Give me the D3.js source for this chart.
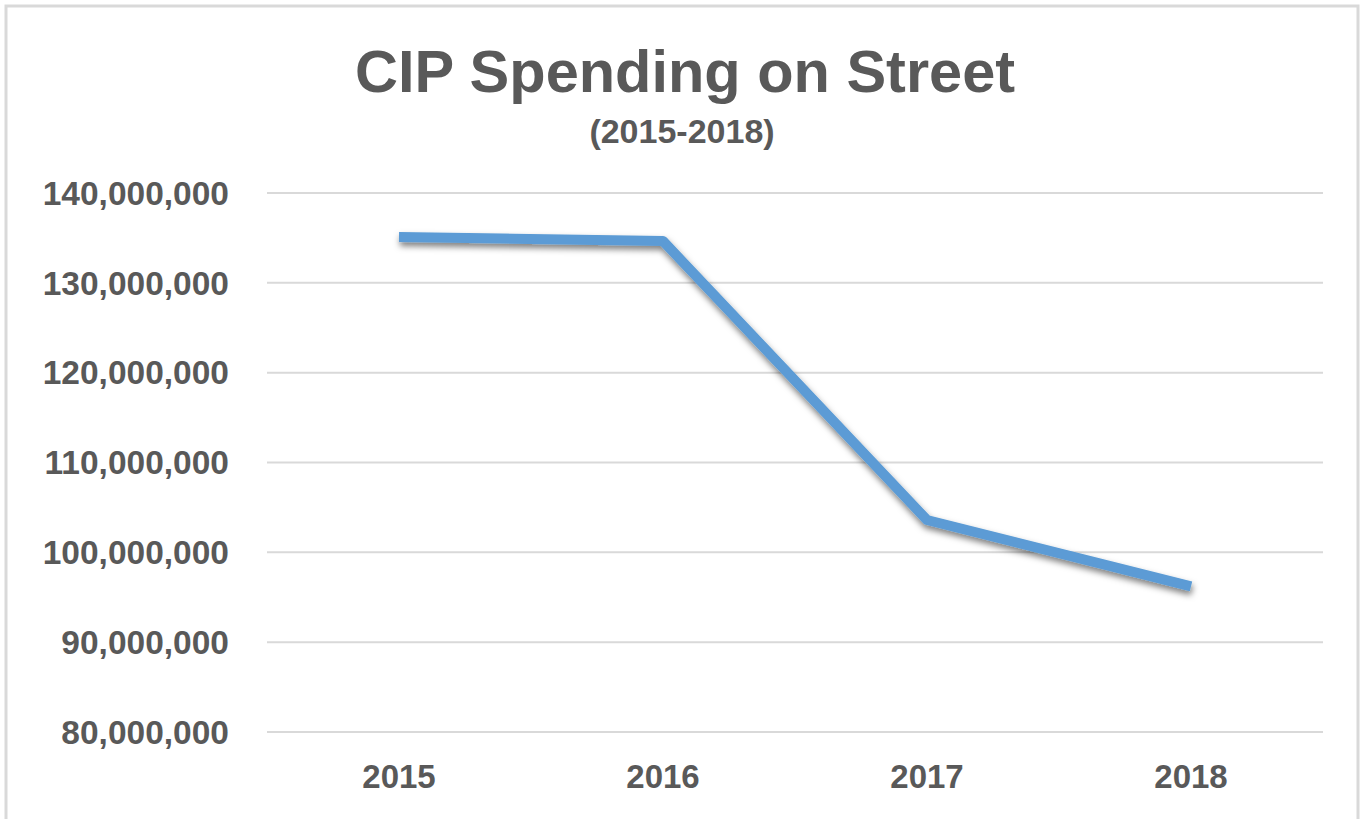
<!DOCTYPE html>
<html>
<head>
<meta charset="utf-8">
<title>CIP Spending on Street</title>
<script src="https://d3js.org/d3.v7.min.js"></script>
<style>
  body { margin: 0; background: #fff; }
  svg { display: block; font-family: "Liberation Sans", Arial, sans-serif; }
</style>
</head>
<body>
<script>
const years = ["2015", "2016", "2017", "2018"];
const spending = [135100000, 134650000, 103600000, 96200000];
const yTicks = [80000000, 90000000, 100000000, 110000000, 120000000, 130000000, 140000000];

const W = 1361, H = 819;
const svg = d3.select("body").append("svg")
    .attr("width", W)
    .attr("height", H);

// shadow under the line
const defs = svg.append("defs");
const f = defs.append("filter").attr("id", "shadow")
    .attr("x", "-10%").attr("y", "-10%").attr("width", "120%").attr("height", "130%");
f.append("feDropShadow")
    .attr("dx", 1).attr("dy", 4)
    .attr("stdDeviation", 3)
    .attr("flood-color", "#000")
    .attr("flood-opacity", 0.5);

// outer frame
svg.append("rect")
    .attr("x", 6).attr("y", 6)
    .attr("width", W - 9).attr("height", H + 20)
    .attr("fill", "none")
    .attr("stroke", "#d9d9d9")
    .attr("stroke-width", 3);

const x = d3.scalePoint()
    .domain(years)
    .range([267, 1323])
    .padding(0.5);

const y = d3.scaleLinear()
    .domain([80000000, 140000000])
    .range([732, 193]);

const fmt = d3.format(",");

// gridlines
svg.append("g")
    .selectAll("line")
    .data(yTicks).join("line")
    .attr("x1", 267).attr("x2", 1323)
    .attr("y1", d => y(d)).attr("y2", d => y(d))
    .attr("stroke", "#d9d9d9")
    .attr("stroke-width", 2);

// y labels
svg.append("g")
    .selectAll("text")
    .data(yTicks).join("text")
    .attr("x", 229)
    .attr("y", d => y(d))
    .attr("dy", "0.35em")
    .attr("text-anchor", "end")
    .attr("font-size", 33.5)
    .attr("font-weight", "bold")
    .attr("fill", "#595959")
    .text(d => fmt(d));

// x labels
svg.append("g")
    .selectAll("text")
    .data(years).join("text")
    .attr("x", d => x(d))
    .attr("y", 788)
    .attr("text-anchor", "middle")
    .attr("font-size", 33)
    .attr("font-weight", "bold")
    .attr("fill", "#595959")
    .text(d => d);

// line
const line = d3.line()
    .x((d, i) => x(years[i]))
    .y(d => y(d));

svg.append("path")
    .datum(spending)
    .attr("d", line)
    .attr("fill", "none")
    .attr("stroke", "#5b9bd5")
    .attr("stroke-width", 10)
    .attr("stroke-linejoin", "round")
    .attr("filter", "url(#shadow)");

// titles
svg.append("text")
    .attr("x", 685).attr("y", 92)
    .attr("text-anchor", "middle")
    .attr("font-size", 59.5)
    .attr("font-weight", "bold")
    .attr("fill", "#595959")
    .text("CIP Spending on Street");

svg.append("text")
    .attr("x", 682).attr("y", 143)
    .attr("text-anchor", "middle")
    .attr("font-size", 34)
    .attr("font-weight", "bold")
    .attr("fill", "#595959")
    .text("(2015-2018)");
</script>
</body>
</html>
